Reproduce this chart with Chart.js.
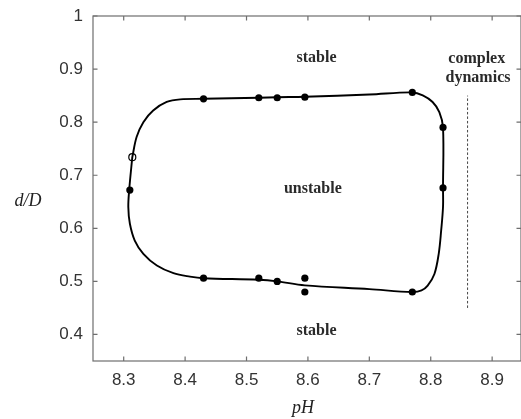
<!DOCTYPE html>
<html><head><meta charset="utf-8">
<script src="https://cdn.jsdelivr.net/npm/chart.js@4/dist/chart.umd.min.js"></script>
<style>html,body{margin:0;padding:0;background:#fff}#wrap{width:521px;height:419px;position:relative}</style>
</head><body><div id="wrap"><canvas id="c"></canvas></div>
<script>
// Boundary curve (closed loop)
const curvePH = [8.314, 8.321, 8.332, 8.348, 8.370, 8.392, 8.430, 8.520, 8.550, 8.595, 8.700, 8.770, 8.787, 8.803, 8.814, 8.820, 8.820, 8.820, 8.817, 8.813, 8.806, 8.795, 8.785, 8.770, 8.700, 8.595, 8.550, 8.520, 8.430, 8.408, 8.381, 8.354, 8.332, 8.318, 8.310, 8.3075, 8.309, 8.314];
const curveDD = [0.734, 0.772, 0.800, 0.822, 0.838, 0.843, 0.844, 0.846, 0.847, 0.848, 0.852, 0.856, 0.8505, 0.838, 0.819, 0.790, 0.676, 0.640, 0.596, 0.552, 0.514, 0.492, 0.483, 0.480, 0.4855, 0.4925, 0.500, 0.503, 0.506, 0.509, 0.5155, 0.530, 0.552, 0.577, 0.609, 0.640, 0.673, 0.734];
// Measured points (filled)
const pointPH = [8.31, 8.43, 8.52, 8.55, 8.595, 8.77, 8.82, 8.82, 8.77, 8.595, 8.595, 8.55, 8.52, 8.43];
const pointDD = [0.672, 0.844, 0.846, 0.846, 0.847, 0.856, 0.790, 0.676, 0.480, 0.480, 0.506, 0.500, 0.506, 0.506];
// Open point
const openPH = [8.314];
const openDD = [0.734];
// Dashed boundary of complex dynamics
const dashPH = [8.86, 8.86];
const dashDD = [0.45, 0.85];
// Ticks
const xTicks = [8.3, 8.4, 8.5, 8.6, 8.7, 8.8, 8.9];
const yTicks = [0.4, 0.5, 0.6, 0.7, 0.8, 0.9, 1.0];
// Region labels
const regionText = ['stable', 'unstable', 'stable', 'complex', 'dynamics'];
const regionPH = [8.614, 8.608, 8.614, 8.875, 8.877];
const regionDD = [0.921, 0.675, 0.4066, 0.920, 0.8826];

const zip = (a, b) => a.map((v, i) => ({x: v, y: b[i]}));

const framePlugin = {
  id: 'frame',
  afterDraw(chart) {
    const {ctx, chartArea: a, scales: {x, y}} = chart;
    ctx.save();
    ctx.strokeStyle = '#6e6e6e';
    ctx.lineWidth = 1.2;
    ctx.strokeRect(a.left, a.top, a.right - a.left, a.bottom - a.top);
    const tl = 4.5;
    ctx.beginPath();
    xTicks.forEach(v => {
      const px = x.getPixelForValue(v);
      ctx.moveTo(px, a.bottom); ctx.lineTo(px, a.bottom - tl);
      ctx.moveTo(px, a.top); ctx.lineTo(px, a.top + tl);
    });
    yTicks.forEach(v => {
      const py = y.getPixelForValue(v);
      ctx.moveTo(a.left, py); ctx.lineTo(a.left + tl, py);
      ctx.moveTo(a.right, py); ctx.lineTo(a.right - tl, py);
    });
    ctx.stroke();
    // region labels
    ctx.fillStyle = '#2a2a2a';
    ctx.font = 'bold 16px "Liberation Serif", "DejaVu Serif", serif';
    ctx.textAlign = 'center';
    ctx.textBaseline = 'middle';
    regionText.forEach((t, i) => {
      ctx.fillText(t, x.getPixelForValue(regionPH[i]), y.getPixelForValue(regionDD[i]));
    });
    // axis titles
    ctx.font = 'italic 18px "Liberation Serif", serif';
    ctx.fillStyle = '#222';
    ctx.fillText('d/D', 28, 201);
    ctx.fillText('pH', 303, 408);
    ctx.restore();
  }
};

new Chart(document.getElementById('c'), {
  type: 'scatter',
  data: {
    datasets: [
      {data: zip(curvePH, curveDD), showLine: true, tension: 0.35, borderColor: '#000', borderWidth: 1.9, pointRadius: 0, fill: false},
      {data: zip(dashPH, dashDD), showLine: true, borderColor: '#444', borderWidth: 1, borderDash: [2.5, 2], pointRadius: 0},
      {data: zip(pointPH, pointDD), showLine: false, pointRadius: 3.6, pointBackgroundColor: '#000', pointBorderColor: '#000', pointBorderWidth: 0},
      {data: zip(openPH, openDD), showLine: false, pointRadius: 3.5, pointBackgroundColor: '#fff', pointBorderColor: '#000', pointBorderWidth: 1.2}
    ]
  },
  options: {
    responsive: true,
    maintainAspectRatio: false,
    animation: false,
    layout: {autoPadding: false, padding: {top: 16, right: 0, left: 0, bottom: 0}},
    plugins: {legend: {display: false}, tooltip: {enabled: false}},
    scales: {
      x: {
        type: 'linear', min: 8.25, max: 8.947,
        afterBuildTicks: s => { s.ticks = xTicks.map(v => ({value: v})); },
        afterFit: s => { s.height = 58; s.paddingLeft = 0; s.paddingRight = 0; },
        grid: {display: false, drawTicks: false}, border: {display: false},
        ticks: {padding: 9, color: '#333', font: {family: '"Liberation Sans", Arial, sans-serif', size: 17}, callback: v => v.toFixed(1)}
      },
      y: {
        type: 'linear', min: 0.35, max: 1.0,
        afterBuildTicks: s => { s.ticks = yTicks.map(v => ({value: v})); },
        afterFit: s => { s.width = 93; s.paddingTop = 0; s.paddingBottom = 0; },
        grid: {display: false, drawTicks: false}, border: {display: false},
        ticks: {padding: 10, color: '#333', font: {family: '"Liberation Sans", Arial, sans-serif', size: 17}, callback: v => (v === 1 ? '1' : v.toFixed(1))}
      }
    }
  },
  plugins: [framePlugin]
});
</script>
</body></html>
